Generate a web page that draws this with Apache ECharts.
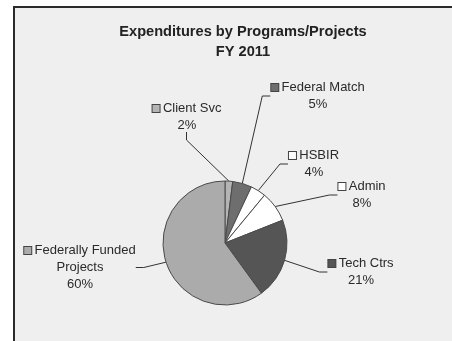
<!DOCTYPE html>
<html>
<head>
<meta charset="utf-8">
<script src="https://cdn.jsdelivr.net/npm/echarts@6/dist/echarts.min.js"></script>
<style>
  html, body { margin: 0; padding: 0; background: #ffffff; }
  #chart { width: 452px; height: 341px; }
</style>
</head>
<body>
<div id="chart"></div>
<script>
// Spending shares by program, clockwise from 12 o'clock
const categories = ['Client Svc', 'Federal Match', 'HSBIR', 'Admin', 'Tech Ctrs', 'Federally Funded\nProjects'];
const shares = [2, 5, 4, 8, 21, 60];
const sliceColors = ['#b4b4b4', '#6e6e6e', '#ffffff', '#ffffff', '#555555', '#ababab'];
const titleLines = ['Expenditures by Programs/Projects', 'FY 2011'];

// label anchors: centre x, top y of each text block
const labelSpots = [
  [187, 100], [318, 79], [314, 147], [362, 178], [361, 255], [80, 242]
];

const chart = echarts.init(document.getElementById('chart'), null, { renderer: 'canvas' });

const data = categories.map((name, i) => ({
  name: name,
  value: shares[i],
  itemStyle: { color: sliceColors[i] },
  label: {
    rich: {
      sq: {
        width: 7, height: 7,
        backgroundColor: sliceColors[i],
        borderColor: '#444', borderWidth: 1
      },
      t: { fontSize: 13, color: '#2a2a2a', lineHeight: 17, fontFamily: 'Liberation Sans, Arial, sans-serif' }
    }
  }
}));

chart.setOption({
  animation: false,
  backgroundColor: '#ffffff',
  graphic: [{
    type: 'rect',
    z: -10,
    shape: { x: 14, y: 7, width: 460, height: 360 },
    style: { fill: '#efefef', stroke: '#2a2a2a', lineWidth: 2 }
  }],
  title: {
    text: titleLines.join('\n'),
    left: 238, top: 17,
    textAlign: 'center',
    textStyle: {
      fontFamily: 'Liberation Sans, Arial, sans-serif',
      fontSize: 14.6, fontWeight: 'bold', color: '#222', lineHeight: 20
    }
  },
  series: [{
    type: 'pie',
    center: [225, 243],
    radius: 62,
    startAngle: 90,
    clockwise: true,
    data: data,
    itemStyle: { borderColor: '#4a4a4a', borderWidth: 1 },
    label: {
      show: true,
      position: 'outside',
      align: 'center',
      formatter: p => {
        const parts = p.name.split('\n');
        const first = '{sq|} {t|' + parts[0] + '}';
        const rest = parts.slice(1).map(s => '{t|' + s + '}');
        return [first].concat(rest, ['{t|' + p.value + '%}']).join('\n');
      }
    },
    labelLine: {
      show: true,
      length: 10, length2: 8,
      lineStyle: { color: '#333', width: 1 }
    },
    labelLayout: params => {
      const s = labelSpots[params.dataIndex];
      return { x: s[0], y: s[1], align: 'center', verticalAlign: 'top' };
    }
  }]
});
</script>
</body>
</html>
